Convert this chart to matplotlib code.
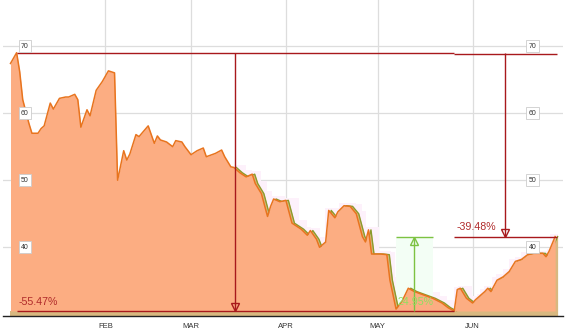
import matplotlib
matplotlib.use('Agg')
import matplotlib.pyplot as plt
import matplotlib.dates as mdates
import matplotlib.transforms as mtransforms
import numpy as np
import pandas as pd

# DATA
dates = [
    "2013-01-01", "2013-01-03", "2013-01-04", "2013-01-05", "2013-01-07", "2013-01-08",
    "2013-01-10", "2013-01-11", "2013-01-12", "2013-01-14", "2013-01-15", "2013-01-17",
    "2013-01-19", "2013-01-20", "2013-01-22", "2013-01-23", "2013-01-24", "2013-01-26",
    "2013-01-27", "2013-01-29", "2013-01-31",
    "2013-02-02", "2013-02-04", "2013-02-05", "2013-02-07", "2013-02-08", "2013-02-09",
    "2013-02-11", "2013-02-12", "2013-02-15", "2013-02-17", "2013-02-18", "2013-02-19",
    "2013-02-21", "2013-02-23", "2013-02-24", "2013-02-26", "2013-02-27",
    "2013-03-01", "2013-03-03", "2013-03-05", "2013-03-06", "2013-03-09", "2013-03-11",
    "2013-03-12", "2013-03-14", "2013-03-15", "2013-03-17", "2013-03-19", "2013-03-21",
    "2013-03-22", "2013-03-24", "2013-03-26", "2013-03-27", "2013-03-28", "2013-03-30",
    "2013-04-01", "2013-04-03", "2013-04-06", "2013-04-08", "2013-04-09", "2013-04-11",
    "2013-04-12", "2013-04-14", "2013-04-15", "2013-04-17", "2013-04-18", "2013-04-20",
    "2013-04-22", "2013-04-24", "2013-04-26", "2013-04-27", "2013-04-28", "2013-04-29",
    "2013-05-02", "2013-05-04", "2013-05-05", "2013-05-07", "2013-05-09", "2013-05-11",
    "2013-05-13", "2013-05-16", "2013-05-19", "2013-05-22", "2013-05-24", "2013-05-26",
    "2013-05-27", "2013-05-28", "2013-05-30",
    "2013-06-01", "2013-06-02", "2013-06-03", "2013-06-05", "2013-06-06", "2013-06-07",
    "2013-06-09", "2013-06-11", "2013-06-13", "2013-06-15", "2013-06-17", "2013-06-19",
    "2013-06-21", "2013-06-24", "2013-06-25", "2013-06-26", "2013-06-28",
]
prices = [
    67.4, 69.0, 66.2, 62.0, 58.5, 57.0,
    57.0, 57.7, 58.1, 61.5, 60.6, 62.2,
    62.4, 62.4, 62.8, 62.0, 57.9, 60.5,
    59.6, 63.4, 64.7,
    66.3, 66.0, 50.0, 54.4, 53.0, 53.9,
    56.8, 56.5, 58.1, 55.5, 56.6, 56.0,
    55.7, 55.0, 55.9, 55.7, 55.0,
    53.8, 54.4, 54.8, 53.5, 54.0, 54.5,
    53.5, 52.0, 51.9, 51.1, 50.5, 50.9,
    49.5, 48.0, 44.6, 46.1, 47.2, 46.8,
    47.0, 43.6, 42.7, 41.8, 42.5, 41.2,
    40.0, 40.8, 45.5, 44.4, 45.3, 46.2,
    46.1, 45.0, 41.6, 40.8, 42.6, 39.0,
    39.0, 38.9, 35.1, 30.8, 32.0, 33.9,
    33.4, 32.9, 32.4, 31.7, 31.0, 30.5,
    33.7, 33.9, 32.4,
    31.7, 32.2, 32.6, 33.4, 33.9, 33.4,
    35.1, 35.6, 36.4, 37.9, 38.2, 38.9,
    39.1, 39.1, 38.6, 39.4, 41.6,
]
month_ticks = ["2013-02-01", "2013-03-01", "2013-04-01", "2013-05-01", "2013-06-01"]
month_labels = ["FEB", "MAR", "APR", "MAY", "JUN"]
price_ticks = [40, 50, 60, 70]

drop_label = "-55.47%"
end_label = "-39.48%"
rebound_label = "24.95%"
rebound_span = ["2013-05-07", "2013-05-19"]
second_series_start = "2013-03-15"

plt.rcParams['font.family'] = ['Liberation Sans', 'DejaVu Sans']

x = mdates.date2num(pd.to_datetime(dates))
y = np.array(prices)
i_peak = int(np.argmax(y))
i_low = int(np.argmin(y))
peak, low, last = y[i_peak], y[i_low], y[-1]

fig = plt.figure(figsize=(5.69, 3.35), dpi=100)
ax = fig.add_axes([3 / 569, 19 / 335, 560 / 569, 316 / 335])
x0 = mdates.date2num(pd.Timestamp("2013-01-01"))
ax.set_xlim(x0 - 2.45, x0 + 180.56)
bottom = 29.76
ax.set_ylim(bottom, 76.86)

# second (lagging) series and its light envelope
sec = x >= mdates.date2num(pd.Timestamp(second_series_start))
xs = x[sec] + 0.8
ys = y[sec]
env = pd.Series(ys).rolling(3, center=True, min_periods=1).max().values
ax.fill_between(xs, env + 0.4, bottom, step='mid', color='#fdf1fb', lw=0, zorder=1)

g0, g1 = mdates.date2num(pd.to_datetime(rebound_span))
ax.fill_between([g0, g1], low, last, color='#f3fef5', lw=0, zorder=1.2)

ax.fill_between(x, low, bottom, color='#d8b880', lw=0, zorder=2)
ax.fill_between(xs, ys, bottom, color='#d8b880', lw=0, zorder=2)
ax.plot(xs, ys, color='#8c9a2c', lw=1.0, zorder=2.5)

# main series
ax.fill_between(x, y, low, color='#fcad82', lw=0, zorder=3)
ax.plot(x, y, color='#e8741e', lw=1.1, zorder=4)

# grid, axes
ax.set_xticks(mdates.date2num(pd.to_datetime(month_ticks)))
ax.set_xticklabels(month_labels, fontsize=5.5, color='#333333')
ax.set_yticks(price_ticks)
ax.tick_params(axis='y', left=False, labelleft=False)
ax.tick_params(axis='x', length=0, pad=5)
ax.grid(True, color='#dddddd', lw=0.9, zorder=0)
ax.set_axisbelow(True)
for s in ['top', 'left', 'right']:
    ax.spines[s].set_visible(False)
ax.spines['bottom'].set_color('#222222')
ax.spines['bottom'].set_linewidth(1)

ytrans = mtransforms.blended_transform_factory(ax.transAxes, ax.transData)
for v in price_ticks:
    for xa in (0.039, 0.946):
        ax.text(xa, v, str(v), transform=ytrans, fontsize=5, color='#333333',
                ha='center', va='center', zorder=6,
                bbox=dict(boxstyle='square,pad=0.35', fc='white', ec='#cccccc', lw=0.6))

# annotations
red = '#a8191c'
green = '#7dc242'
ax.hlines(peak, x[i_peak], x[i_low], color=red, lw=1, zorder=5)
ax.hlines(peak - 0.12, x[i_low], x[-1] + 0.5, color=red, lw=1, zorder=5)
ax.hlines(low, x[i_peak], x[i_low], color=red, lw=1, zorder=5)
ax.hlines(last, x[i_low], x[-1] + 0.5, color=red, lw=1, zorder=5)

up = mtransforms.offset_copy(ax.transData, fig=fig, y=4, units='dots')
down = mtransforms.offset_copy(ax.transData, fig=fig, y=-4, units='dots')

m1 = (x[i_peak] + x[i_low]) / 2
ax.vlines(m1, low, peak, color=red, lw=1, zorder=5)
ax.plot([m1], [low], marker='v', ms=6, mfc='none', mec=red, mew=1, transform=up, zorder=6)

m2 = (x[i_low] + x[-1]) / 2
ax.vlines(m2, last, peak, color=red, lw=1, zorder=5)
ax.plot([m2], [last], marker='v', ms=6, mfc='none', mec=red, mew=1, transform=up, zorder=6)

gm = (g0 + g1) / 2
ax.hlines(last, g0, g1, color=green, lw=1, zorder=5)
ax.vlines(gm, low, last, color=green, lw=1, zorder=5)
ax.plot([gm], [last], marker='^', ms=6, mfc='none', mec=green, mew=1, transform=down, zorder=6)

ax.annotate(drop_label, (x[i_peak], low), xytext=(1.5, 3), textcoords='offset points',
            fontsize=7.7, color='#b02a2a', va='bottom', ha='left', zorder=7)
ax.annotate(end_label, (x[i_low], last), xytext=(1.5, 3), textcoords='offset points',
            fontsize=7.7, color='#b02a2a', va='bottom', ha='left', zorder=7)
ax.annotate(rebound_label, (g0, low), xytext=(1, 3), textcoords='offset points',
            fontsize=7.7, color='#8ee060', va='bottom', ha='left', zorder=7)

fig.savefig('out.png', dpi=100)
